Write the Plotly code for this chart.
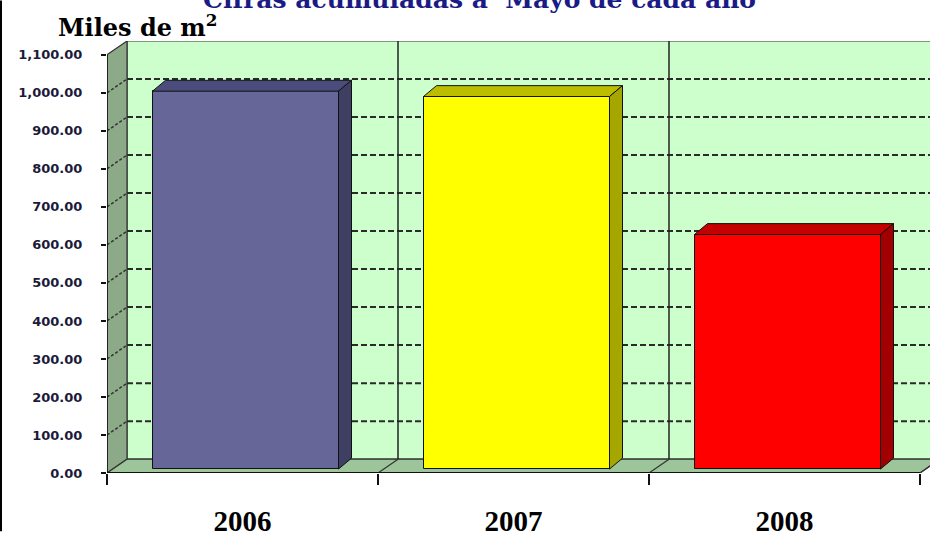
import plotly.graph_objects as go

# ---------------- data ----------------
years = ["2006", "2007", "2008"]
values = [994, 980, 617]
front_colors = ["#666699", "#FFFF00", "#FF0000"]
top_colors = ["#4C4C7C", "#BDBD00", "#C40000"]
side_colors = ["#3F3F63", "#A6A600", "#A20000"]
y_ticks = list(range(0, 1101, 100))
title_text = "Cifras acumuladas a\u00a0 Mayo de cada año"
unit_text = "Miles de m<sup>2</sup>"

# ---------------- geometry ----------------
W, H = 930, 537
L, T, B = 107, 41, 59
PX_PER_CAT = 271.0
PX_PER_VAL = 423.0 / 1100
plot_w = W - L
plot_h = H - T - B
X0 = -0.5
X1 = X0 + plot_w / PX_PER_CAT
Y1 = plot_h / PX_PER_VAL
NCAT = len(years)
XEND = X0 + NCAT
YMAX = y_ticks[-1]


def dxp(px):
    return px / PX_PER_CAT


def dyp(px):
    return px / PX_PER_VAL


def px2paper_x(px):
    return (px - L) / plot_w


def px2paper_y(py):
    return (T + plot_h - py) / plot_h


WDX, WDY = dxp(20), dyp(14)
BDX, BDY = dxp(13), dyp(11)
BFX, BFY = dxp(3), dyp(4)
BAR_W = 186 / PX_PER_CAT
positions = list(range(NCAT))

shapes = []
# back wall
shapes.append(dict(type="rect", xref="x", yref="y", x0=X0 + WDX, x1=X1 + 1,
                   y0=WDY, y1=YMAX + WDY, fillcolor="#CCFFCC",
                   line=dict(color="#333333", width=1.2), layer="below"))
# left wall
shapes.append(dict(type="path", xref="x", yref="y",
                   path=f"M{X0},0 L{X0 + WDX},{WDY} L{X0 + WDX},{YMAX + WDY} L{X0},{YMAX} Z",
                   fillcolor="#8CAA88", line=dict(color="#333333", width=1.2), layer="below"))
# floor
shapes.append(dict(type="path", xref="x", yref="y",
                   path=f"M{X0},0 L{XEND},0 L{XEND + WDX},{WDY} L{X0 + WDX},{WDY} Z",
                   fillcolor="#9CC59A", line=dict(color="#333333", width=1.2), layer="below"))
# back wall gridlines
for v in y_ticks[1:-1]:
    shapes.append(dict(type="line", xref="x", yref="y", x0=X0 + WDX, x1=X1 + 1,
                       y0=v + WDY, y1=v + WDY,
                       line=dict(color="#2A2A2A", width=2, dash="6px,3px"), layer="below"))
# left wall diagonals
for v in y_ticks[1:-1]:
    shapes.append(dict(type="line", xref="x", yref="y", x0=X0, x1=X0 + WDX,
                       y0=v, y1=v + WDY,
                       line=dict(color="#333333", width=1.5, dash="3px,2px"), layer="below"))
# category dividers (back wall verticals + floor diagonals)
for k in range(1, NCAT + 1):
    xb = X0 + k
    if k < NCAT:
        shapes.append(dict(type="line", xref="x", yref="y", x0=xb + WDX, x1=xb + WDX,
                           y0=WDY, y1=YMAX + WDY,
                           line=dict(color="#222222", width=1.5), layer="below"))
    shapes.append(dict(type="line", xref="x", yref="y", x0=xb, x1=xb + WDX,
                       y0=0, y1=WDY, line=dict(color="#333333", width=1.2), layer="below"))
# front axis lines
shapes.append(dict(type="line", xref="x", yref="y", x0=X0, x1=XEND, y0=0, y1=0,
                   line=dict(color="#111111", width=2)))
shapes.append(dict(type="line", xref="x", yref="y", x0=X0, x1=X0, y0=0, y1=YMAX,
                   line=dict(color="#111111", width=1.5)))

# bar top and side faces
for i, v in enumerate(values):
    xl = positions[i] - BAR_W / 2 + BFX
    xr = positions[i] + BAR_W / 2 + BFX
    yt = v + BFY
    shapes.append(dict(type="path", xref="x", yref="y",
                       path=f"M{xl},{yt} L{xl + BDX},{yt + BDY} L{xr + BDX},{yt + BDY} L{xr},{yt} Z",
                       fillcolor=top_colors[i], line=dict(color="#111111", width=1)))
    shapes.append(dict(type="path", xref="x", yref="y",
                       path=f"M{xr},{BFY} L{xr + BDX},{BFY + BDY} L{xr + BDX},{yt + BDY} L{xr},{yt} Z",
                       fillcolor=side_colors[i], line=dict(color="#111111", width=1)))

# image left border
shapes.append(dict(type="line", xref="paper", yref="paper",
                   x0=px2paper_x(1), x1=px2paper_x(1),
                   y0=px2paper_y(H), y1=px2paper_y(0),
                   line=dict(color="#000000", width=2)))

fig = go.Figure()
fig.add_trace(go.Bar(
    x=positions, y=values, base=BFY, width=BAR_W, offset=-BAR_W / 2 + BFX,
    marker=dict(color=front_colors, line=dict(color="#111111", width=1)),
    hoverinfo="skip", showlegend=False,
))
# invisible trace to activate the secondary x axis (boundary ticks)
fig.add_trace(go.Scatter(x=[X0], y=[0], xaxis="x2", mode="markers",
                         marker=dict(opacity=0), hoverinfo="skip", showlegend=False))

fig.update_layout(
    width=W, height=H, autosize=False,
    margin=dict(l=L, r=0, t=T, b=B, pad=0),
    paper_bgcolor="white", plot_bgcolor="white",
    xaxis=dict(range=[X0, X1], tickvals=positions, ticktext=years, ticks="",
               showgrid=False, zeroline=False, showline=False, fixedrange=True,
               tickfont=dict(family="Liberation Serif", size=29, color="#000000",
                             weight="bold"),
               ticklabelstandoff=28),
    xaxis2=dict(range=[X0, X1], overlaying="x", side="bottom", anchor="y",
                tickvals=[X0 + k for k in range(NCAT + 1)], ticks="outside", ticklen=11,
                tickwidth=1.5, tickcolor="#111111", showticklabels=False,
                showgrid=False, zeroline=False, showline=False, fixedrange=True),
    yaxis=dict(range=[0, Y1], tickvals=y_ticks, tickformat=",.2f", ticks="outside",
               ticklen=5, tickwidth=1.5, tickcolor="#111111", showgrid=False,
               zeroline=False, showline=False, fixedrange=True,
               tickfont=dict(family="DejaVu Sans", size=13, color="#1A1A3A",
                             weight="bold"),
               ticklabelstandoff=16),
    shapes=shapes,
    annotations=[
        dict(text=f"<b>{title_text}</b>", xref="paper", yref="paper",
             x=px2paper_x(479.5), y=px2paper_y(-0.5), xanchor="center", yanchor="middle",
             showarrow=False, font=dict(family="DejaVu Serif", size=25, color="#1B1B85")),
        dict(text=f"<b>{unit_text}</b>", xref="paper", yref="paper",
             x=px2paper_x(56), y=px2paper_y(26), xanchor="left", yanchor="middle",
             showarrow=False, font=dict(family="DejaVu Serif", size=24, color="#000000")),
    ],
    bargap=0,
)

fig.write_html(
    "out.html",
    config={"displayModeBar": False},
    post_script="document.body.style.margin='0';document.body.style.overflow='hidden';",
)
